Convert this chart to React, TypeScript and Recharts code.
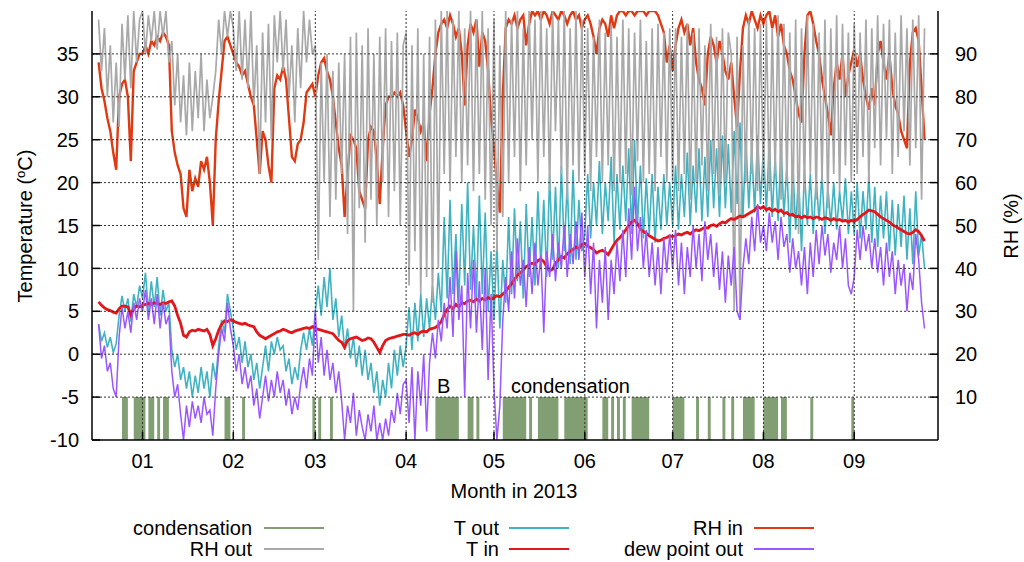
import { ComposedChart, Line, Area, XAxis, YAxis, ReferenceLine } from "recharts";

const FONT = '"Liberation Sans", Arial, Helvetica, sans-serif';

// day 0 = 1 Jan 2013; the logger series start on 17 Dec 2012
const FIRST_DAY = -15;

const monthTicks = [0, 31, 59, 90, 120, 151, 181, 212, 243];
const monthLabels = ["01", "02", "03", "04", "05", "06", "07", "08", "09"];
const tempTicks = [-10, -5, 0, 5, 10, 15, 20, 25, 30, 35];
const rhTicks = [10, 20, 30, 40, 50, 60, 70, 80, 90];

// one value per day, Dec | Jan | Feb | Mar | Apr | May | Jun | Jul | Aug | Sep
const rhIn = [
  88, 82, 79, 75, 72, 67, 63, 80, 83, 84, 80, 65, 86, 88, 90,
  90, 92, 90, 93, 92, 94, 93, 95, 94, 92, 72, 67, 64, 62, 54, 52, 63, 58, 61, 59, 65, 63, 66, 60, 50, 70, 79, 86, 93, 94, 92,
  90, 88, 87, 85, 86, 83, 80, 78, 70, 62, 72, 70, 64, 60, 82, 85, 84, 87, 84, 75, 66, 65, 69, 70, 74, 81, 82, 83,
  80, 85, 88, 89, 86, 84, 80, 74, 68, 64, 52, 62, 71, 70, 68, 58, 56, 54, 70, 73, 72, 65, 55, 68, 78, 80, 80, 81, 80, 81, 78,
  72, 66, 70, 77, 75, 72, 74, 65, 76, 82, 90, 95, 97, 98, 96, 99, 97, 94, 96, 90, 78, 92, 97, 95, 98, 87, 95, 93, 86, 75,
  68, 60, 53, 80, 96, 98, 97, 99, 96, 98, 99, 92, 97, 100, 99, 100, 98, 100, 99, 97, 100, 99, 98, 100, 99, 97, 99, 100, 98, 99, 96,
  98, 99, 97, 94, 90, 96, 98, 97, 94, 99, 96, 99, 100, 100, 99, 100, 100, 99, 100, 100, 100, 99, 100, 100, 100, 99, 97, 95, 88, 92,
  86, 92, 96, 98, 95, 97, 92, 96, 88, 84, 82, 78, 90, 94, 92, 88, 93, 90, 86, 84, 88, 80, 73, 86, 96, 99, 97, 100, 98, 96, 99,
  97, 99, 100, 96, 99, 94, 97, 92, 90, 86, 84, 80, 76, 74, 90, 99, 100, 97, 93, 90, 84, 80, 76, 71, 82, 88, 84, 90, 80, 85, 88,
  91, 87, 90, 84, 80, 77, 82, 78, 90, 93, 88, 84, 90, 82, 78, 76, 72, 70, 68, 88, 95, 96, 93, 82, 70,
];

const rhOut = [
  98, 86, 96, 80, 92, 74, 88, 73, 97, 84, 99, 82, 100, 88, 98,
  100, 90, 99, 93, 100, 91, 100, 94, 100, 88, 93, 78, 90, 74, 85, 71, 88, 72, 86, 75, 90, 72, 84, 75, 80, 86, 98, 90, 100, 94, 100,
  96, 86, 100, 84, 98, 82, 100, 78, 92, 62, 95, 74, 97, 70, 99, 88, 100, 86, 98, 80, 92, 74, 96, 82, 100, 88, 98, 90,
  92, 42, 88, 60, 90, 52, 86, 56, 88, 62, 90, 48, 94, 30, 95, 54, 92, 46, 96, 56, 90, 50, 94, 60, 96, 52, 93, 58, 95, 50, 92,
  95, 36, 92, 44, 96, 34, 90, 38, 94, 32, 98, 40, 100, 62, 100, 58, 98, 66, 100, 60, 96, 64, 100, 58, 98, 62, 100, 56, 96, 50,
  98, 44, 92, 52, 100, 60, 98, 66, 100, 58, 96, 64, 100, 70, 98, 60, 100, 66, 96, 58, 100, 72, 98, 62, 100, 56, 96, 64, 100, 60, 98,
  62, 96, 58, 94, 66, 98, 60, 95, 64, 97, 58, 94, 60, 98, 62, 96, 57, 95, 65, 98, 60, 93, 62, 96, 58, 97, 66, 95, 60, 96,
  60, 96, 58, 94, 62, 97, 56, 95, 60, 96, 64, 92, 58, 97, 62, 94, 57, 96, 60, 95, 90, 30, 94, 28, 92, 60, 98, 62, 96, 58, 97,
  60, 98, 58, 96, 62, 99, 56, 97, 60, 95, 52, 98, 48, 96, 58, 99, 62, 97, 56, 95, 60, 98, 54, 96, 62, 99, 58, 97, 64, 95, 60,
  97, 62, 95, 66, 98, 60, 96, 68, 99, 64, 97, 70, 98, 62, 95, 66, 99, 72, 96, 64, 98, 68, 99, 56, 96,
];

const tOut = [
  3.5, 1.5, 2.5, 0.8, 2.0, 0.2, 1.2, 4.5, 6.8, 5.0, 6.5, 3.8, 7.0, 5.5, 8.0,
  6.5, 9.5, 5.0, 8.5, 5.5, 9.0, 4.5, 7.5, 5.0, 6.0, 0.5, -1.5, 0.0, -3.0, -1.5, -4.0, -2.0, -5.0, -2.5, -4.5, -1.5, -4.0, -2.0, -5.0, -1.0, -3.0, 1.0, 4.0, 2.5, 7.0, 5.0,
  3.0, 0.5, 2.0, -1.0, 1.5, -1.5, 0.0, -3.0, -1.0, -4.0, -1.5, 1.0, -2.0, 1.5, 0.0, 2.0, 0.5, 1.0, -2.0, -0.5, -3.5, -1.5, -3.0, 0.5, 2.5, 0.5, 3.0, 1.0,
  5.0, 8.0, 4.5, 9.0, 5.5, 10.0, 4.0, 6.5, 2.0, 4.5, 0.5, 3.0, -0.5, 2.0, -1.5, 1.0, -2.5, 0.5, -3.0, -1.0, -4.5, -2.0, -6.0, -3.0, -5.0, -1.0, -4.0, 0.5, -2.5, 1.0, -1.5,
  1.0, 5.5, 0.5, 6.0, 1.5, 7.0, 2.0, 6.5, 3.0, 8.0, 4.0, 9.5, 5.0, 16.0, 6.5, 18.0, 7.0, 14.0, 6.0, 17.5, 8.0, 20.0, 7.5, 15.0, 6.5, 18.5, 7.0, 16.5, 5.0, 12.0,
  4.0, 13.0, 3.0, 11.0, 6.0, 16.0, 7.0, 17.0, 8.5, 15.5, 6.5, 17.5, 9.0, 16.0, 8.0, 19.0, 10.0, 18.0, 9.0, 21.0, 11.0, 19.5, 10.0, 22.0, 12.0, 20.0, 10.5, 21.5, 11.0, 18.0, 12.0,
  14.0, 21.0, 13.5, 20.0, 15.0, 22.5, 14.0, 20.0, 15.5, 23.0, 13.0, 21.0, 14.5, 22.0, 15.5, 24.0, 14.0, 25.0, 15.0, 22.0, 13.5, 20.5, 14.0, 21.0, 13.0, 19.5, 14.5, 21.0, 15.0, 20.0,
  15.0, 22.0, 14.5, 21.0, 16.0, 23.5, 15.0, 22.0, 16.5, 24.0, 15.5, 23.0, 16.0, 25.0, 17.0, 24.0, 16.0, 25.5, 17.0, 24.5, 16.5, 26.0, 17.5, 27.0, 16.0, 25.0, 17.0, 24.0, 16.5, 25.5, 17.5,
  24.0, 16.5, 25.0, 16.0, 23.0, 15.5, 24.5, 16.0, 22.0, 13.0, 22.5, 14.5, 21.0, 12.0, 21.5, 15.0, 21.0, 14.0, 20.5, 15.5, 21.0, 14.0, 19.5, 15.0, 20.0, 14.5, 19.0, 15.5, 20.5, 14.0, 19.0,
  14.0, 20.0, 13.5, 19.0, 14.5, 21.0, 13.0, 19.5, 12.5, 18.5, 13.5, 19.0, 12.0, 18.0, 11.5, 17.5, 12.5, 18.5, 11.0, 17.0, 10.5, 19.0, 11.5, 14.0, 10.0,
];

const tIn = [
  6.1, 5.7, 5.4, 5.2, 5.1, 4.9, 4.8, 5.3, 5.6, 5.6, 5.5, 4.6, 5.3, 5.6, 5.5,
  5.7, 5.8, 5.9, 5.8, 6.0, 5.9, 5.8, 6.0, 5.9, 6.1, 6.2, 5.6, 4.5, 3.6, 2.2, 2.0, 2.6, 2.8, 2.7, 2.9, 2.8, 2.7, 2.9, 2.3, 1.0, 1.8, 2.8, 3.5, 3.9, 3.8, 4.0,
  3.9, 3.7, 3.6, 3.5, 3.6, 3.4, 3.3, 3.2, 2.6, 2.2, 2.0, 1.8, 2.0, 2.2, 2.4, 2.6, 2.7, 2.9, 2.8, 2.6, 2.5, 2.7, 2.8, 2.9, 3.0, 3.1, 3.0, 3.2,
  3.0, 2.9, 2.8, 2.7, 2.6, 2.5, 2.4, 2.0, 1.6, 1.4, 0.8, 1.6, 1.8, 1.9, 2.0, 1.8, 1.6, 1.7, 1.9, 1.8, 1.4, 0.8, 0.2, 1.0, 1.6, 1.8, 1.9, 2.0, 2.1, 2.2, 2.3,
  2.3, 2.2, 2.4, 2.5, 2.3, 2.6, 2.7, 2.6, 2.9, 3.0, 3.1, 3.4, 3.8, 4.6, 5.2, 5.6, 5.3, 5.8, 5.5, 6.0, 5.9, 6.2, 6.3, 6.1, 6.4, 6.2, 6.5, 6.3, 6.6, 6.4,
  6.6, 6.8, 6.7, 7.0, 7.3, 7.8, 8.2, 8.7, 9.2, 9.5, 9.8, 10.2, 10.4, 10.6, 10.5, 10.9, 11.1, 10.8, 10.2, 9.7, 9.9, 10.6, 11.0, 11.4, 11.2, 11.7, 12.0, 12.2, 12.5, 12.3, 12.8,
  12.9, 12.6, 12.4, 12.2, 11.8, 12.0, 12.1, 11.9, 11.6, 12.2, 12.8, 13.3, 13.6, 14.0, 14.5, 15.0, 15.4, 15.6, 15.2, 14.6, 14.3, 14.1, 13.8, 13.6, 13.4, 13.2, 13.3, 13.5, 13.6, 13.8,
  13.7, 13.8, 14.0, 13.9, 14.1, 14.2, 14.0, 14.3, 14.5, 14.4, 14.6, 14.8, 14.7, 15.0, 15.1, 14.9, 15.2, 15.4, 15.3, 15.6, 15.8, 15.7, 15.9, 16.1, 16.0, 16.2, 16.4, 16.6, 16.8, 17.2, 17.0,
  17.2, 16.8, 17.0, 16.7, 16.9, 16.6, 16.8, 16.4, 16.5, 16.2, 16.3, 16.0, 16.1, 15.9, 16.1, 15.9, 16.0, 15.8, 16.0, 15.9, 15.7, 15.9, 15.8, 15.6, 15.8, 15.6, 15.7, 15.5, 15.6, 15.4, 15.6,
  15.5, 15.7, 16.0, 16.3, 16.5, 16.8, 16.7, 16.6, 16.3, 16.0, 15.8, 15.6, 15.4, 15.1, 14.9, 14.7, 14.5, 14.3, 14.1, 14.0, 14.2, 14.5, 14.3, 13.8, 13.2,
];

const dewPoint = [
  3.5, -0.5, 1.0, -2.0, -1.0, -4.0, -5.0, 2.0, 5.5, 3.0, 5.0, 2.5, 6.0, 4.0, 6.5,
  5.0, 7.5, 4.0, 6.5, 3.5, 7.0, 3.0, 6.0, 3.5, 4.5, -2.0, -5.0, -3.5, -7.0, -10.0, -6.0, -8.5, -5.5, -7.5, -6.0, -8.0, -5.0, -7.0, -6.5, -9.5, -4.0, 0.0, 3.0, 1.5, 6.0, 3.0,
  1.0, -2.0, 0.0, -3.5, -1.5, -4.0, -2.5, -6.0, -4.0, -7.5, -5.0, -2.5, -5.5, -3.0, -5.0, -2.0, -4.5, -3.0, -6.0, -4.0, -7.0, -5.0, -6.5, -3.5, -1.5, -4.0, -0.5, -2.5,
  5.0, -1.0, 2.0, -2.5, 0.5, -3.0, -1.0, -4.5, -2.0, -5.5, -10.0, -6.0, -8.0, -4.5, -9.5, -6.5, -8.5, -10.0, -7.0, -9.0, -6.0, -10.0, -8.0, -10.0, -7.5, -9.5, -6.5, -8.0, -4.5, -7.0, -3.5,
  -3.0, -8.0, -1.5, -10.0, -2.0, -6.0, 0.0, -9.0, -1.0, 2.5, -0.5, 4.0, 1.5, 6.0, 3.0, 9.0, 2.0, 12.0, 4.0, 8.0, -5.0, 9.5, 3.0, 11.0, 2.5, 8.5, 0.5, 10.0, -3.0, 7.0,
  -4.0, -10.0, -6.0, 4.0, 9.0, 5.0, 12.0, 6.5, 13.5, 8.0, 11.0, 5.5, 12.5, 7.0, 13.0, 8.0, 11.5, 2.5, 12.0, 9.0, 14.0, 8.5, 13.0, 10.0, 15.0, 9.0, 14.0, 10.5, 15.5, 11.0, 16.5,
  9.0, 15.0, 7.0, 13.0, 3.0, 11.0, 6.0, 12.5, 4.0, 11.0, 7.0, 13.0, 8.5, 14.5, 9.0, 17.0, 11.0, 19.5, 12.0, 16.0, 10.0, 14.5, 9.0, 13.0, 8.0, 12.5, 7.0, 13.5, 9.5, 14.0,
  10.0, 14.5, 8.0, 13.0, 7.0, 12.5, 9.0, 15.0, 10.0, 14.0, 8.5, 15.5, 11.0, 14.0, 9.0, 13.0, 7.5, 12.0, 6.0, 11.5, 8.0, 12.5, 5.0, 4.0, 10.0, 13.5, 10.5, 16.0, 12.0, 17.5, 13.0,
  15.0, 12.0, 16.5, 13.0, 15.5, 11.0, 16.0, 12.5, 14.0, 9.5, 13.5, 10.0, 12.0, 8.0, 12.5, 7.0, 13.0, 9.0, 14.5, 10.5, 15.0, 11.5, 14.0, 9.5, 13.0, 11.0, 15.0, 10.0, 13.5, 8.0, 7.0,
  9.0, 14.5, 11.0, 15.0, 12.0, 14.0, 10.0, 13.5, 9.5, 12.5, 8.0, 13.0, 9.0, 12.0, 7.0, 11.0, 8.0, 10.5, 5.0, 9.5, 7.5, 14.0, 11.0, 6.0, 3.0,
];

// inclusive day ranges flagged as condensation
const condensationSpans = [
  [-7, -6], [-3, 0], [2, 3], [5, 5], [7, 8], [28, 29], [34, 34], [58, 58], [60, 60], [64, 64],
  [100, 107], [111, 112], [114, 114], [123, 130], [132, 132], [135, 141], [144, 151],
  [157, 158], [160, 160], [162, 162], [164, 164], [167, 172], [181, 184], [189, 189],
  [193, 193], [198, 198], [201, 201], [205, 208], [212, 216], [218, 219], [228, 228], [242, 242],
];

const COLORS = {
  cond: "#829f73",
  rhOut: "#a9a9a9",
  tOut: "#40b3c2",
  tIn: "#e2161b",
  rhIn: "#e03a12",
  dew: "#9a57ff",
};

const isCondensing = (day: number) =>
  condensationSpans.some(([a, b]) => day >= a && day <= b);

const rows = tIn.map((_, i) => {
  const day = FIRST_DAY + i;
  return {
    day,
    cond: isCondensing(day) ? -5 : -10,
    rhOut: rhOut[i],
    tOut: tOut[i],
    rhIn: rhIn[i],
    tIn: tIn[i],
    dew: dewPoint[i],
  };
});

const legendItems = [
  { label: "condensation", color: COLORS.cond, right: 252, x: 264, y: 528 },
  { label: "RH out", color: COLORS.rhOut, right: 252, x: 264, y: 549 },
  { label: "T out", color: COLORS.tOut, right: 499, x: 509, y: 528 },
  { label: "T in", color: COLORS.tIn, right: 499, x: 509, y: 549 },
  { label: "RH in", color: COLORS.rhIn, right: 743, x: 754, y: 528 },
  { label: "dew point out", color: COLORS.dew, right: 743, x: 754, y: 549 },
];

const tickStyle = { fontSize: 20, fill: "#000", fontFamily: FONT };
const axisLine = { stroke: "#000", strokeWidth: 1.5 };
const gridProps = { stroke: "#333", strokeDasharray: "2 2", strokeWidth: 1, zIndex: 450 };

function Overlay() {
  const title = { position: "absolute" as const, fontSize: 20, lineHeight: "20px", whiteSpace: "nowrap" as const, color: "#000" };
  return (
    <>
      <div style={{ ...title, left: 22.5, top: 226, transform: "translate(-50%, -50%) rotate(-90deg)" }}>
        Temperature (<sup style={{ fontSize: 13, verticalAlign: "7px" }}>o</sup>C)
      </div>
      <div style={{ ...title, left: 1010.5, top: 226, transform: "translate(-50%, -50%) rotate(-90deg)" }}>
        RH (%)
      </div>
      <div style={{ ...title, left: 514, top: 491, transform: "translate(-50%, -50%)" }}>
        Month in 2013
      </div>
      <div style={{ ...title, left: 437, top: 376 }}>B</div>
      <div style={{ ...title, left: 511, top: 376 }}>condensation</div>
      {legendItems.map((it) => (
        <div key={it.label}>
          <div style={{ ...title, right: 1024 - it.right, top: it.y - 10 }}>{it.label}</div>
          <div
            style={{
              position: "absolute",
              left: it.x,
              top: it.y - 1,
              width: 60,
              height: 2,
              background: it.color,
            }}
          />
        </div>
      ))}
    </>
  );
}

export default function App() {
  return (
    <div
      style={{
        position: "absolute",
        left: 0,
        top: 0,
        width: 1024,
        height: 562,
        background: "#fff",
        fontFamily: FONT,
      }}
    >
      <ComposedChart
        width={1024}
        height={562}
        data={rows}
        margin={{ top: 11, right: 26, bottom: 92, left: 32 }}
      >
        <XAxis
          dataKey="day"
          type="number"
          domain={[-17.25, 271.6]}
          allowDataOverflow
          ticks={monthTicks}
          interval={0}
          tickFormatter={(v: number) => monthLabels[monthTicks.indexOf(v)] ?? ""}
          tick={tickStyle}
          tickSize={-8}
          tickMargin={22}
          tickLine={axisLine}
          axisLine={axisLine}
          height={30}
        />
        <XAxis
          xAxisId="top"
          orientation="top"
          dataKey="day"
          type="number"
          domain={[-17.25, 271.6]}
          allowDataOverflow
          ticks={monthTicks}
          interval={0}
          tick={false}
          tickSize={-8}
          tickLine={axisLine}
          axisLine={axisLine}
          height={0}
        />
        <YAxis
          yAxisId="t"
          type="number"
          domain={[-10, 40]}
          allowDataOverflow
          ticks={tempTicks}
          interval={0}
          tick={tickStyle}
          tickSize={-8}
          tickMargin={21}
          tickLine={axisLine}
          axisLine={axisLine}
          width={60}
        />
        <YAxis
          yAxisId="rh"
          orientation="right"
          type="number"
          domain={[0, 100]}
          allowDataOverflow
          ticks={rhTicks}
          interval={0}
          tick={tickStyle}
          tickSize={-8}
          tickMargin={25}
          tickLine={axisLine}
          axisLine={axisLine}
          width={60}
        />

        <Area
          yAxisId="t"
          dataKey="cond"
          type="stepAfter"
          baseValue={-10}
          stroke="none"
          fill={COLORS.cond}
          fillOpacity={1}
          isAnimationActive={false}
        />
        <Line yAxisId="t" dataKey="tOut" type="linear" stroke={COLORS.tOut} strokeWidth={1.6} dot={false} isAnimationActive={false} />
        <Line yAxisId="rh" dataKey="rhIn" type="linear" stroke={COLORS.rhIn} strokeWidth={2.4} dot={false} isAnimationActive={false} />
        <Line yAxisId="rh" dataKey="rhOut" type="linear" stroke={COLORS.rhOut} strokeWidth={1.7} dot={false} isAnimationActive={false} />
        <Line yAxisId="t" dataKey="tIn" type="linear" stroke={COLORS.tIn} strokeWidth={2.8} dot={false} isAnimationActive={false} />
        <Line yAxisId="t" dataKey="dew" type="linear" stroke={COLORS.dew} strokeWidth={1.5} dot={false} isAnimationActive={false} />

        {tempTicks.slice(1).map((v) => (
          <ReferenceLine key={`h${v}`} yAxisId="t" y={v} {...gridProps} />
        ))}
        {monthTicks.map((d) => (
          <ReferenceLine key={`v${d}`} yAxisId="t" x={d} {...gridProps} />
        ))}
      </ComposedChart>
      <Overlay />
    </div>
  );
}
